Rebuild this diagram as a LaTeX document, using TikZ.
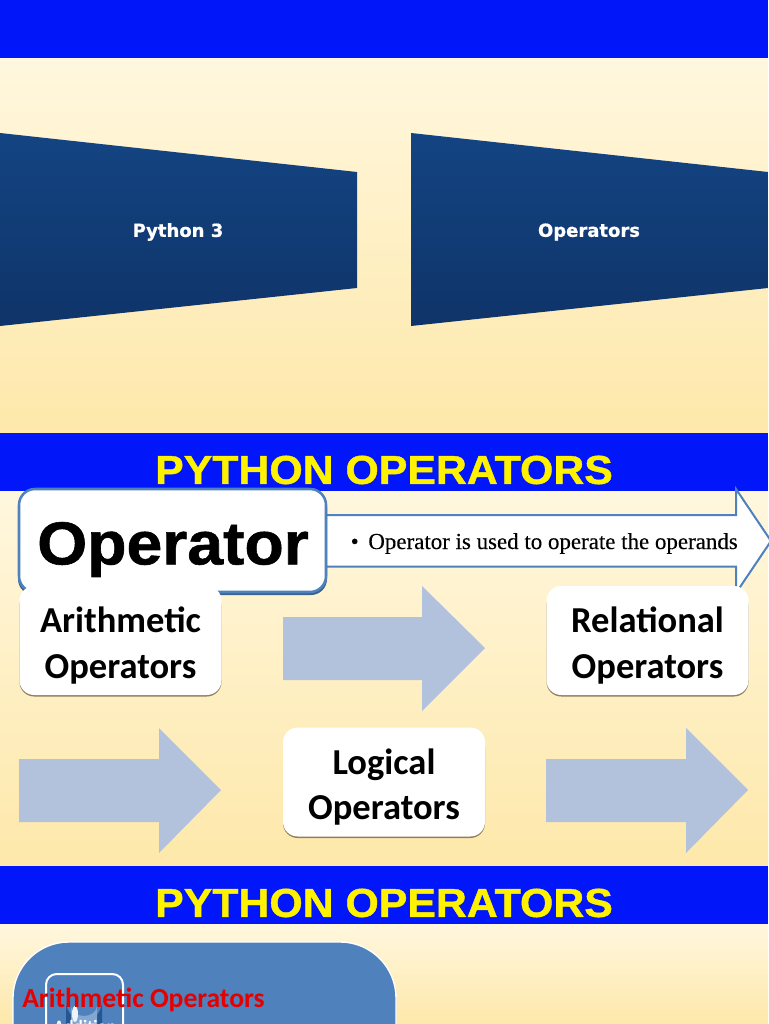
\documentclass[tikz,border=0pt]{standalone}
\usepackage{fontspec}
\setmainfont[BoldFeatures={FakeStretch=1.06,FakeBold=1}]{Liberation Sans}
\newfontfamily\calibri{Carlito}
\newfontfamily\verdana[BoldFeatures={FakeBold=0.8}]{DejaVu Sans}
\newfontfamily\timesfont{Liberation Serif}
\usetikzlibrary{positioning,calc}
\definecolor{bandblue}{RGB}{2,22,250}
\definecolor{creamtop}{RGB}{255,247,222}
\definecolor{creambot}{RGB}{254,232,170}
\definecolor{navytop}{RGB}{19,68,130}
\definecolor{navybot}{RGB}{15,52,105}
\definecolor{steel}{RGB}{79,129,189}
\definecolor{paleblue}{RGB}{178,193,220}
\begin{document}
\begin{tikzpicture}[x=0.75pt,y=-0.75pt,
band/.style={fill=bandblue,draw=none},
bandtext/.style={text=yellow,font=\fontsize{30.3}{31}\selectfont\bfseries},
slab/.style={top color=navytop,bottom color=navybot,draw=none},
slabtext/.style={text=white,font=\verdana\fontsize{13.5}{14}\selectfont\bfseries},
boxtext/.style={align=center,font=\calibri\fontsize{27.4}{34}\selectfont\bfseries,inner sep=0pt},
boxshadow/.style={fill=black!45!creambot,rounded corners=11pt},
whitebox/.style={fill=white,rounded corners=11pt},
bigarrow/.style={fill=paleblue,draw=none}]
 \useasboundingbox (0,0) rectangle (768,1024);
 % slide backgrounds
 \foreach \T/\B in {58/433,491/866,924/1024}
 {\fill[top color=creamtop,bottom color=creambot] (0,\T) rectangle (768,\B);}
 \foreach \T/\X in {0/a,433/b,866/c}
 {\fill[band] (0,\T) rectangle (768,\T+58);
 \coordinate (mid\X) at (384,\T+37);}
 \node[bandtext] (titleb) at (midb) {PYTHON OPERATORS};
 \node[bandtext] (titlec) at (midc) {PYTHON OPERATORS};
 % first slide
 \path[slab] (0,133) -- (357,172) -- (357,288) -- (0,326) -- cycle;
 \path[slab] (411,133) -- (768,172) -- (768,288) -- (411,326) -- cycle;
 \node[slabtext] (python) at (178,232) {Python 3};
 \node[slabtext] (ops) at (589,232) {Operators};
 % second slide
 \draw[steel,line width=1.5pt,fill=white] (300,515) -- (736,515) -- (736,489) -- (771,541) -- (736,593) -- (736,566.5) -- (300,566.5) -- cycle;
 \node[anchor=west,font=\timesfont\fontsize{17.2}{18}\selectfont\addfontfeatures{FakeBold=0.2}] (opdesc) at (346,543.5) {\textbullet\hspace{0.42em}Operator is used to operate the operands};
 \fill[steel!75!black,rounded corners=12pt] (18,492) rectangle (327,595);
 \draw[steel,line width=1.9pt,fill=white,rounded corners=12pt] (19,489) rectangle (326,592);
 \node[font=\fontsize{45.5}{46}\selectfont\bfseries] (operator) at (173,549.5) {Operator};
 \foreach \N/\P/\Q/\A/\B in {arith/120.5/641/Arithmetic/Operators,rel/647.5/641/Relational/Operators,logic/384/782.5/Logical/Operators}
 {\fill[boxshadow] (\P-101,\Q-50) rectangle (\P+101,\Q+55.5);
 \fill[whitebox] (\P-101,\Q-55) rectangle (\P+101,\Q+54);
 \node[boxtext] (\N) at (\P,\Q+4.5) {\A\\\B};}
 \path[bigarrow] (283,617) -- (422,617) -- (422,586) -- (485,648) -- (422,711) -- (422,680) -- (283,680) -- cycle;
 \path[bigarrow] (19,759) -- (159,759) -- (159,728) -- (221,790) -- (159,853) -- (159,822) -- (19,822) -- cycle;
 \path[bigarrow] (546,759) -- (686,759) -- (686,728) -- (748,790) -- (686,853) -- (686,822) -- (546,822) -- cycle;
 % third slide
 \begin{scope}
 \clip (0,924) rectangle (768,1024);
 \draw[white,line width=1pt,fill=steel,rounded corners=42pt] (13,942) rectangle (396,1100);
 \draw[white,line width=1.5pt,rounded corners=8pt] (46,974) rectangle (123,1100);
 \fill[navytop!70!steel] (66,1030) -- (66,1001) arc (180:0:18 and 20) -- (102,1030) -- cycle;
 \fill[steel!70!white] (71,1030) -- (71,1006) arc (180:0:13 and 10) -- (97,1030) -- cycle;
 \fill[white!90!steel] (75,1014) ellipse (3 and 8);
 \node[anchor=north,text=white,font=\calibri\fontsize{13}{14}\selectfont\bfseries,inner sep=0pt] (addition) at (85,1020.5) {Addition};
 \end{scope}
 \node[anchor=west,text=red!90!black,font=\calibri\fontsize{20.7}{22}\selectfont\bfseries,inner sep=0pt] (arithred) at (22,999.5) {Arithmetic Operators};
\end{tikzpicture}
\end{document}
